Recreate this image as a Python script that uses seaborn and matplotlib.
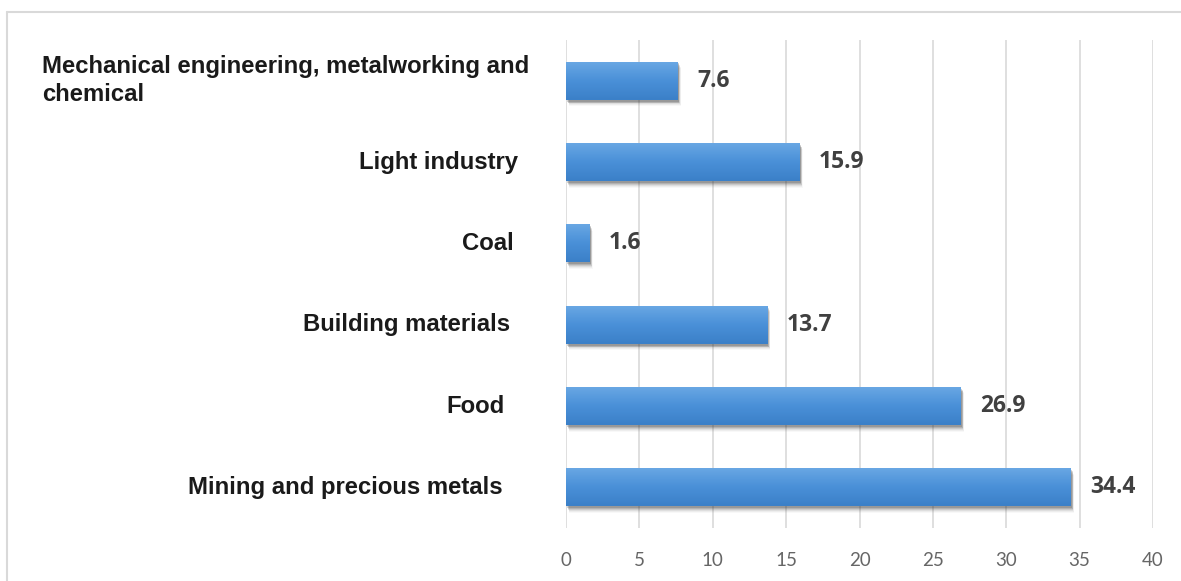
import numpy as np
import pandas as pd
import matplotlib
matplotlib.use("Agg")
import matplotlib.pyplot as plt
import matplotlib.transforms as mtransforms
from matplotlib.lines import Line2D
from matplotlib.patches import Rectangle
from matplotlib.colors import LinearSegmentedColormap
import seaborn as sns

# Industry sectors and their share (%)
categories = [
    "Mechanical engineering, metalworking and\nchemical",
    "Light industry",
    "Coal",
    "Building materials",
    "Food",
    "Mining and precious metals",
]
shares = [7.6, 15.9, 1.6, 13.7, 26.9, 34.4]
x_ticks = [0, 5, 10, 15, 20, 25, 30, 35, 40]

sns.set_theme(style="white")
plt.rcParams["font.family"] = ["Liberation Sans", "DejaVu Sans"]

W, H, DPI = 1181, 581, 100
fig = plt.figure(figsize=(W / DPI, H / DPI), dpi=DPI)
fig.patch.set_facecolor("white")

# plot area in pixel terms
left_px, right_px, top_px, bottom_px = 566, 1153, 40, 528
ax = fig.add_axes([left_px / W, 1 - bottom_px / H,
                   (right_px - left_px) / W, (bottom_px - top_px) / H])

df = pd.DataFrame({"sector": categories, "share": shares})
sns.barplot(data=df, x="share", y="sector", orient="h", width=0.47,
            color="#4a8fd6", saturation=1, ax=ax, zorder=3)

ax.set_xlim(0, 40)
ax.set_ylim(len(categories) - 0.5, -0.5)

# gradient fill + soft drop shadow for each bar
grad_cmap = LinearSegmentedColormap.from_list("bar", ["#6aa8e4", "#4a90d8", "#3b80c8"])
grad = np.linspace(0, 1, 64).reshape(-1, 1)
for p in list(ax.patches):
    x0, y0 = p.get_x(), p.get_y()
    w, h = p.get_width(), p.get_height()
    for k, a in zip(range(1, 7), [0.20, 0.15, 0.11, 0.08, 0.05, 0.03]):
        tr = mtransforms.offset_copy(ax.transData, fig=fig, x=1.0 + 0.4 * k,
                                     y=-(1.0 + 0.9 * k), units="dots")
        ax.add_patch(Rectangle((x0, y0), w, h, facecolor="#303030", alpha=a,
                               edgecolor="none", transform=tr, zorder=2))
    img = ax.imshow(grad, cmap=grad_cmap, aspect="auto", origin="lower",
                    extent=[x0, x0 + w, y0, y0 + h], zorder=4,
                    interpolation="bilinear")
    img.set_clip_path(p)
    p.set_facecolor("none")
    p.set_edgecolor("none")

ax.set_xlim(0, 40)
ax.set_ylim(len(categories) - 0.5, -0.5)

# value labels
for i, v in enumerate(shares):
    ax.annotate(f"{v}", xy=(v, i), xytext=(14, 0), textcoords="offset points",
                ha="left", va="center", fontsize=16.5, fontweight="bold",
                family=["Open Sans", "DejaVu Sans"], color="#404040", zorder=5)

# category labels
ax.set_yticks(range(len(categories)))
ax.set_yticklabels([])
ax.tick_params(axis="y", length=0)
label_layout = [(-524, "left"), (-48, "right"), (-52, "right"),
                (-56, "right"), (-61, "right"), (-63, "right")]
for i, (name, (dx, ha)) in enumerate(zip(categories, label_layout)):
    ax.annotate(name, xy=(0, i), xycoords=("axes fraction", "data"),
                xytext=(dx * 72 / DPI, 0), textcoords="offset points",
                ha=ha, va="center", multialignment="left", linespacing=1.3,
                fontsize=17.2, fontweight="bold", color="#1a1a1a",
                annotation_clip=False)

# x axis
ax.set_xticks(x_ticks)
ax.set_xticklabels([str(t) for t in x_ticks], family=["Lato", "DejaVu Sans"],
                   fontsize=13.5, color="#666666")
ax.tick_params(axis="x", length=0, pad=17)
ax.set_xlabel("")
ax.set_ylabel("")
ax.grid(axis="x", color="#d9d9d9", linewidth=1.2, zorder=0)
ax.grid(axis="y", visible=False)
for s in ax.spines.values():
    s.set_visible(False)

# outer frame
fig.add_artist(Line2D([7 / W, 7 / W], [0, 1 - 12 / H], transform=fig.transFigure,
                      color="#d9d9d9", linewidth=1.5))
fig.add_artist(Line2D([7 / W, 1], [1 - 12 / H, 1 - 12 / H], transform=fig.transFigure,
                      color="#d9d9d9", linewidth=1.5))

fig.savefig("out.png", dpi=DPI, facecolor="white")
